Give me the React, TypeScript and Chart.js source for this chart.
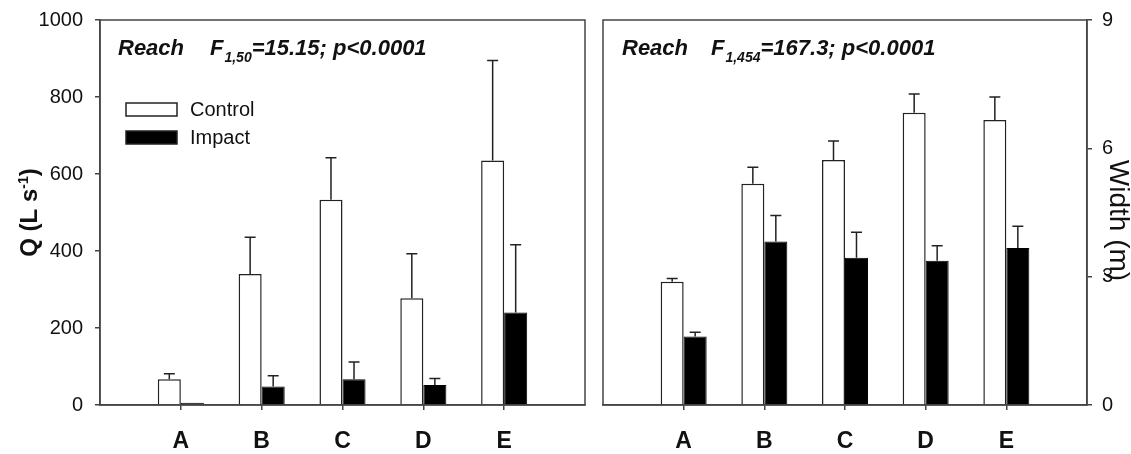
import React, { useEffect, useRef } from "react";
import { Chart, registerables } from "chart.js";

Chart.register(...registerables);

const categories = ["A", "B", "C", "D", "E"];

const qControl = [67, 340, 533, 277, 635];
const qControlErr = [14, 96, 109, 116, 260];
const qImpact = [6, 48, 67, 52, 240];
const qImpactErr = [0, 28, 45, 17, 176];

const wControl = [2.88, 5.17, 5.73, 6.83, 6.66];
const wControlErr = [0.08, 0.39, 0.44, 0.44, 0.54];
const wImpact = [1.6, 3.82, 3.44, 3.37, 3.67];
const wImpactErr = [0.1, 0.61, 0.6, 0.35, 0.51];

const qAxis = { min: 0, max: 1000, step: 200 };
const wAxis = { min: 0, max: 9, step: 3 };

const seriesNames = ["Control", "Impact"];
const leftStat = { sub: "1,50", rest: "=15.15; p<0.0001" };
const rightStat = { sub: "1,454", rest: "=167.3; p<0.0001" };

const FONT = "'Liberation Sans', Arial, Helvetica, sans-serif";
const FRAME = "#444";
const INK = "#111";

const X_PAD = 18; // x tick label padding (also Chart.js horizontal scale padding)
const TOP_SHIFT = 4;

const paddedLabels = ["", ...categories, ""];
const pad = (arr: number[]) => [null, ...arr, null];

function errorBarsPlugin() {
  return {
    id: "errbars",
    afterDatasetsDraw(chart: any) {
      const ctx = chart.ctx;
      const yScale = chart.scales.y;
      ctx.save();
      ctx.strokeStyle = "#222";
      ctx.lineWidth = 1.5;
      chart.data.datasets.forEach((ds: any, i: number) => {
        const meta = chart.getDatasetMeta(i);
        meta.data.forEach((el: any, j: number) => {
          const v = ds.data[j];
          const e = ds.errors ? ds.errors[j] : null;
          if (v == null || e == null || e <= 0) return;
          const x = el.x;
          const y0 = el.y;
          const y1 = yScale.getPixelForValue(v + e);
          ctx.beginPath();
          ctx.moveTo(x, y0);
          ctx.lineTo(x, y1);
          ctx.moveTo(x - 5.5, y1);
          ctx.lineTo(x + 5.5, y1);
          ctx.stroke();
        });
      });
      ctx.restore();
    },
  };
}

function framePlugin() {
  return {
    id: "frame",
    afterDraw(chart: any) {
      const { ctx, chartArea: a } = chart;
      ctx.save();
      ctx.strokeStyle = FRAME;
      ctx.lineWidth = 1.5;
      ctx.strokeRect(a.left, a.top, a.right - a.left, a.bottom - a.top);
      ctx.restore();
    },
  };
}

function statPlugin(stat: { sub: string; rest: string }, reachDx: number, fDx: number) {
  return {
    id: "stat",
    afterDraw(chart: any) {
      const { ctx, chartArea: a } = chart;
      ctx.save();
      ctx.fillStyle = INK;
      ctx.textBaseline = "alphabetic";
      ctx.textAlign = "left";
      const base = a.top + 35;
      ctx.font = `italic bold 22px ${FONT}`;
      ctx.fillText("Reach", a.left + reachDx, base);
      let x = a.left + fDx;
      ctx.fillText("F", x, base);
      x += ctx.measureText("F").width + 1;
      ctx.font = `italic bold 14px ${FONT}`;
      ctx.fillText(stat.sub, x, base + 7);
      x += ctx.measureText(stat.sub).width;
      ctx.font = `italic bold 22px ${FONT}`;
      ctx.fillText(stat.rest, x, base);
      ctx.restore();
    },
  };
}

function legendPlugin() {
  return {
    id: "customLegend",
    afterDraw(chart: any) {
      const { ctx, chartArea: a } = chart;
      ctx.save();
      const bx = a.left + 26;
      const rows = [a.top + 83, a.top + 111];
      ctx.lineWidth = 1.5;
      ctx.strokeStyle = "#222";
      ctx.font = `20px ${FONT}`;
      ctx.textBaseline = "middle";
      rows.forEach((ry, i) => {
        ctx.fillStyle = i === 0 ? "#fff" : "#000";
        ctx.fillRect(bx, ry, 51, 13);
        ctx.strokeRect(bx, ry, 51, 13);
        ctx.fillStyle = INK;
        ctx.fillText(seriesNames[i], bx + 64, ry + 7);
      });
      ctx.restore();
    },
  };
}

function leftTitlePlugin() {
  return {
    id: "ytitle",
    afterDraw(chart: any) {
      const { ctx, chartArea: a } = chart;
      ctx.save();
      ctx.fillStyle = INK;
      const segs = [
        { t: "Q (L s", f: `bold 24px ${FONT}`, dy: 0 },
        { t: "-1", f: `bold 14px ${FONT}`, dy: -9 },
        { t: ")", f: `bold 24px ${FONT}`, dy: 0 },
      ];
      let total = 0;
      segs.forEach((s) => {
        ctx.font = s.f;
        total += ctx.measureText(s.t).width;
      });
      ctx.translate(37, (a.top + a.bottom) / 2);
      ctx.rotate(-Math.PI / 2);
      ctx.textBaseline = "alphabetic";
      let x = -total / 2;
      segs.forEach((s) => {
        ctx.font = s.f;
        ctx.fillText(s.t, x, s.dy);
        x += ctx.measureText(s.t).width;
      });
      ctx.restore();
    },
  };
}

function rightTitlePlugin() {
  return {
    id: "ytitle2",
    afterDraw(chart: any) {
      const { ctx, chartArea: a } = chart;
      ctx.save();
      ctx.fillStyle = INK;
      ctx.font = `28px ${FONT}`;
      ctx.translate(a.right + 31, (a.top + a.bottom) / 2 + 8);
      ctx.rotate(Math.PI / 2);
      ctx.textAlign = "center";
      ctx.textBaseline = "middle";
      ctx.fillText("Width (m)", 0, 0);
      ctx.restore();
    },
  };
}

function xScale() {
  return {
    type: "category",
    offset: false,
    grid: {
      offset: false,
      drawOnChartArea: false,
      drawTicks: true,
      tickLength: 5,
      lineWidth: 1.5,
      color: (c: any) => (c.index === 0 || c.index === 6 ? "rgba(0,0,0,0)" : FRAME),
    },
    border: { display: true, color: FRAME, width: 1.5 },
    ticks: {
      color: INK,
      font: { family: FONT, size: 23, weight: "bold" },
      padding: X_PAD,
      autoSkip: false,
      maxRotation: 0,
    },
    afterFit: (s: any) => {
      s.height = 49;
    },
  };
}

function datasets(c: number[], ce: number[], im: number[], ie: number[]) {
  return [
    {
      label: seriesNames[0],
      data: pad(c),
      errors: pad(ce),
      backgroundColor: "#fff",
      borderColor: "#222",
      borderWidth: 1.5,
      categoryPercentage: 0.57,
      barPercentage: 1,
    },
    {
      label: seriesNames[1],
      data: pad(im),
      errors: pad(ie),
      backgroundColor: "#000",
      borderColor: "#000",
      borderWidth: 1,
      categoryPercentage: 0.57,
      barPercentage: 1,
    },
  ];
}

const plainTick = (v: any) => String(v);

const LEFT_W = 585 + X_PAD;
const RIGHT_X = 603 - X_PAD;
const RIGHT_W = 1131 - RIGHT_X;
const CANVAS_H = 454 + TOP_SHIFT;

export default function App() {
  const leftRef = useRef<HTMLCanvasElement | null>(null);
  const rightRef = useRef<HTMLCanvasElement | null>(null);

  useEffect(() => {
    const left = new Chart(leftRef.current as HTMLCanvasElement, {
      type: "bar",
      data: {
        labels: paddedLabels,
        datasets: datasets(qControl, qControlErr, qImpact, qImpactErr) as any,
      },
      options: {
        responsive: false,
        animation: false,
        devicePixelRatio: 1,
        layout: { padding: { left: 0, right: 0, top: 20 + TOP_SHIFT, bottom: 0 } },
        plugins: { legend: { display: false }, tooltip: { enabled: false } },
        scales: {
          x: xScale() as any,
          y: {
            type: "linear",
            position: "left",
            min: qAxis.min,
            max: qAxis.max,
            grid: { drawOnChartArea: false, tickLength: 5, color: FRAME, lineWidth: 1.5 },
            border: { display: true, color: FRAME, width: 1.5 },
            ticks: {
              stepSize: qAxis.step,
              color: INK,
              font: { family: FONT, size: 20 },
              padding: 12,
              callback: plainTick,
            },
            afterFit: (s: any) => {
              s.width = 100;
            },
          } as any,
        },
      },
      plugins: [errorBarsPlugin(), framePlugin(), statPlugin(leftStat, 18, 110), legendPlugin(), leftTitlePlugin()],
    });

    const right = new Chart(rightRef.current as HTMLCanvasElement, {
      type: "bar",
      data: {
        labels: paddedLabels,
        datasets: datasets(wControl, wControlErr, wImpact, wImpactErr) as any,
      },
      options: {
        responsive: false,
        animation: false,
        devicePixelRatio: 1,
        layout: { padding: { left: 0, right: 0, top: 20 + TOP_SHIFT, bottom: 0 } },
        plugins: { legend: { display: false }, tooltip: { enabled: false } },
        scales: {
          x: xScale() as any,
          y: {
            type: "linear",
            position: "right",
            min: wAxis.min,
            max: wAxis.max,
            grid: { drawOnChartArea: false, tickLength: 5, color: FRAME, lineWidth: 1.5 },
            border: { display: true, color: FRAME, width: 1.5 },
            ticks: {
              stepSize: wAxis.step,
              color: INK,
              font: { family: FONT, size: 20 },
              padding: 10,
              callback: plainTick,
            },
            afterFit: (s: any) => {
              s.width = 44;
            },
          } as any,
        },
      },
      plugins: [errorBarsPlugin(), framePlugin(), statPlugin(rightStat, 19, 108), rightTitlePlugin()],
    });

    return () => {
      left.destroy();
      right.destroy();
    };
  }, []);

  return (
    <div style={{ position: "absolute", left: 0, top: 0, width: 1131, height: 454, background: "#fff", overflow: "hidden" }}>
      <canvas ref={leftRef} width={LEFT_W} height={CANVAS_H} style={{ position: "absolute", left: 0, top: -TOP_SHIFT }} />
      <canvas ref={rightRef} width={RIGHT_W} height={CANVAS_H} style={{ position: "absolute", left: RIGHT_X, top: -TOP_SHIFT }} />
    </div>
  );
}
